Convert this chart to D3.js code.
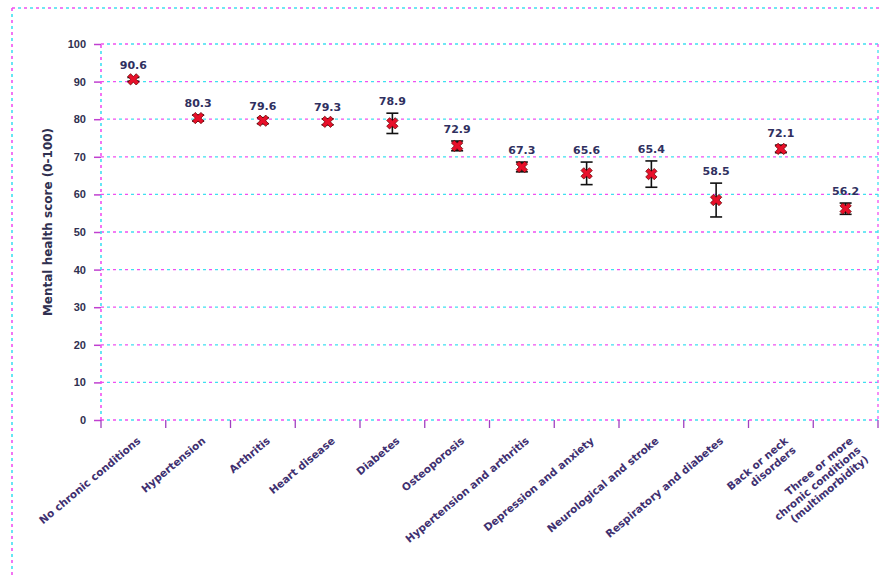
<!DOCTYPE html>
<html>
<head>
<meta charset="utf-8">
<script src="https://cdn.jsdelivr.net/npm/d3@7"></script>
<style>
  html, body { margin: 0; padding: 0; background: #fff; }
  svg { display: block; font-family: "DejaVu Sans", sans-serif; }
</style>
</head>
<body>
<svg id="chart" width="882" height="577"></svg>
<script>
// Mean mental health score by chronic condition group, with 95% CI
const categories = [
  ["No chronic conditions"],
  ["Hypertension"],
  ["Arthritis"],
  ["Heart disease"],
  ["Diabetes"],
  ["Osteoporosis"],
  ["Hypertension and arthritis"],
  ["Depression and anxiety"],
  ["Neurological and stroke"],
  ["Respiratory and diabetes"],
  ["Back or neck", "disorders"],
  ["Three or more", "chronic conditions", "(multimorbidity)"]
];
const means = [90.6, 80.3, 79.6, 79.3, 78.9, 72.9, 67.3, 65.6, 65.4, 58.5, 72.1, 56.2];
const lower = [90.1, 79.5, 78.8, 78.5, 76.2, 71.6, 66.0, 62.6, 61.9, 54.0, 71.1, 54.7];
const upper = [91.1, 81.1, 80.4, 80.1, 81.6, 74.2, 68.6, 68.6, 68.9, 63.0, 73.1, 57.7];
const yTicks = [0, 10, 20, 30, 40, 50, 60, 70, 80, 90, 100];
const yTitle = "Mental health score (0-100)";

const svg = d3.select("#chart");
const margin = { left: 101, right: 4, top: 44, bottom: 157 };
const W = 882, H = 577;
const x = d3.scaleBand().domain(d3.range(categories.length))
  .range([margin.left, W - margin.right]).padding(0);
const y = d3.scaleLinear().domain([0, 100]).range([H - margin.bottom, margin.top]);

// dotted line drawn as alternating magenta / cyan dashes
function dashed(g, x1, y1, x2, y2, w = 1.3) {
  g.append("line").attr("x1", x1).attr("y1", y1).attr("x2", x2).attr("y2", y2)
    .attr("stroke", "#f050f0").attr("stroke-width", w).attr("stroke-dasharray", "3,9");
  g.append("line").attr("x1", x1).attr("y1", y1).attr("x2", x2).attr("y2", y2)
    .attr("stroke", "#40e0f0").attr("stroke-width", w).attr("stroke-dasharray", "3,9")
    .attr("stroke-dashoffset", 6);
}

// outer frame
const frame = svg.append("g");
dashed(frame, 12, 8, W, 8, 1.6);
dashed(frame, 12, 8, 12, H, 1.6);

// gridlines
const grid = svg.append("g");
yTicks.filter(t => t > 0).forEach(t => dashed(grid, margin.left, y(t), W - margin.right, y(t)));
dashed(grid, W - margin.right, margin.top, W - margin.right, y(0));

// y axis
const yAxis = svg.append("g").attr("transform", `translate(${margin.left},0)`)
  .call(d3.axisLeft(y).tickValues(yTicks).tickSize(7).tickPadding(8));
yAxis.select(".domain").remove();
dashed(yAxis, 0, y(0), 0, margin.top, 1.6);
yAxis.selectAll(".tick line").attr("stroke", "#c040d0").attr("stroke-width", 1.5);
yAxis.selectAll(".tick text").attr("font-size", 11).attr("font-weight", "bold").attr("fill", "#303050");

// x axis
const xAxis = svg.append("g").attr("transform", `translate(0,${y(0)})`)
  .call(d3.axisBottom(x).tickSize(0).tickFormat(""));
xAxis.select(".domain").remove();
dashed(xAxis, margin.left, 0, W - margin.right, 0, 1.6);
x.domain().concat([categories.length]).forEach(i => {
  const px = i < categories.length ? x(i) : W - margin.right;
  xAxis.append("line").attr("x1", px).attr("x2", px).attr("y1", 0).attr("y2", 8)
    .attr("stroke", "#a040c0").attr("stroke-width", 1.3);
});

// rotated category labels
const lab = svg.append("g");
categories.forEach((lines, i) => {
  const cx = x(i) + x.bandwidth() / 2 + 8;
  const t = lab.append("text")
    .attr("transform", `translate(${cx},${y(0) + 22}) rotate(-40)`)
    .attr("text-anchor", "end").attr("font-size", 10.5).attr("font-weight", "bold")
    .attr("fill", "#403070");
  lines.forEach((s, k) => {
    t.append("tspan").attr("x", 0).attr("dy", k === 0 ? 0 : "1.15em").text(s);
  });
});

// y title
svg.append("text")
  .attr("transform", `translate(52,${(y(0) + y(100)) / 2 - 10}) rotate(-90)`)
  .attr("text-anchor", "middle").attr("font-size", 12).attr("font-weight", "bold")
  .attr("fill", "#303050").text(yTitle);

// error bars and points
const marks = svg.append("g");
means.forEach((m, i) => {
  const cx = x(i) + x.bandwidth() / 2;
  marks.append("line").attr("x1", cx).attr("x2", cx)
    .attr("y1", y(lower[i])).attr("y2", y(upper[i]))
    .attr("stroke", "#111").attr("stroke-width", 1.6);
  [lower[i], upper[i]].forEach(v => marks.append("line")
    .attr("x1", cx - 6).attr("x2", cx + 6).attr("y1", y(v)).attr("y2", y(v))
    .attr("stroke", "#111").attr("stroke-width", 1.6));
  marks.append("path")
    .attr("d", d3.symbol(d3.symbolCross, 80)())
    .attr("transform", `translate(${cx},${y(m)}) rotate(45)`)
    .attr("fill", "#e8102a").attr("stroke", "#600").attr("stroke-width", 0.7);
  marks.append("text").attr("x", cx).attr("y", y(upper[i]) - 8)
    .attr("text-anchor", "middle").attr("font-size", 11).attr("font-weight", "bold")
    .attr("fill", "#303060").text(m.toFixed(1));
});
</script>
</body>
</html>
